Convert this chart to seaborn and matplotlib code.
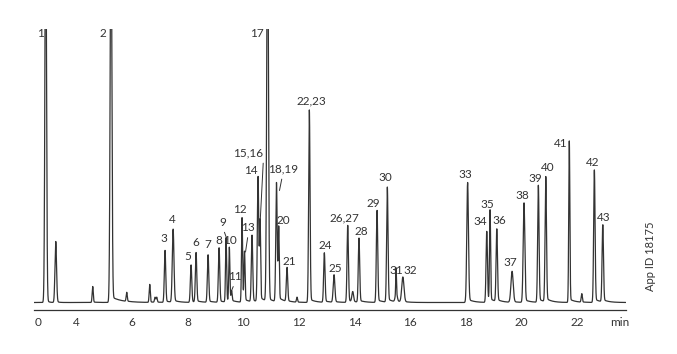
import numpy as np
import pandas as pd
import seaborn as sns
import matplotlib.pyplot as plt

# peaks: label, retention time (min), height, width (min)
peak_labels = ["1", "", "", "2", "", "", "", "", "3", "4", "5", "6", "7", "8", "9", "10",
               "11", "12", "13", "", "14", "15,16", "17", "18,19", "20", "21", "",
               "22,23", "24", "25", "26,27", "", "28", "29", "30", "31", "", "32",
               "33", "34", "35", "36", "37", "38", "39", "40", "41", "", "42", "43"]
peak_times = [0.82, 1.85, 4.576, 5.235, 5.80, 6.628, 6.82, 6.88, 7.179, 7.47, 8.116,
              8.296, 8.728, 9.124, 9.376, 9.493, 9.575, 9.951, 10.04, 10.31, 10.527,
              10.60, 10.87, 11.19, 11.27, 11.57, 11.93, 12.373, 12.913, 13.262, 13.755,
              13.935, 14.16, 14.81, 15.18, 15.494, 15.50, 15.739, 18.07, 18.759, 18.878,
              19.12, 19.67, 20.10, 20.616, 20.883, 21.73, 22.178, 22.632, 22.935]
peak_heights = [400, 61, 16, 400, 9, 18, 5, 5, 52, 73, 37.5, 49.5, 47.5, 54.5, 64, 54,
                10, 84.5, 49.5, 66.5, 125, 79, 400, 119, 73, 34, 5, 192.5, 49.5, 27.5,
                77, 10, 64, 92, 115, 25, 9, 25, 120, 71, 91.5, 72.5, 31, 99.5, 117, 125,
                161.5, 8.5, 132.5, 77]
peak_widths = [0.08, 0.08, 0.02, 0.03, 0.02, 0.02, 0.02, 0.02, 0.025, 0.03, 0.025,
               0.025, 0.025, 0.025, 0.02, 0.02, 0.02, 0.02, 0.02, 0.025, 0.025, 0.02,
               0.03, 0.025, 0.02, 0.025, 0.02, 0.025, 0.025, 0.03, 0.025, 0.03, 0.025,
               0.025, 0.025, 0.012, 0.035, 0.04, 0.03, 0.025, 0.02, 0.025, 0.04, 0.03,
               0.025, 0.025, 0.02, 0.02, 0.025, 0.025]

major_ticks = [0, 4, 6, 8, 10, 12, 14, 16, 18, 20, 22]
major_labels = ["0", "4", "6", "8", "10", "12", "14", "16", "18", "20", "22"]

# label placement (pixels, relative to the peak top; clipped peaks relative to the frame top)
label_offsets = {
    "1": (-5.7, -8), "2": (-8, -8), "17": (-10.3, -8),
    "3": (-1.6, 8.4), "4": (-0.6, 6.6), "5": (-3.7, 5), "6": (0, 7.3), "7": (0, 6.7),
    "8": (-0.7, 4), "9": (-3.3, 12.8), "10": (0.7, 5), "11": (3.5, 12.5), "12": (-2, 4.7),
    "13": (3.8, 22), "14": (-7.3, 3), "15,16": (-11.7, 67), "18,19": (6.2, 11),
    "20": (4.2, 5.3), "21": (1.8, 3.5), "22,23": (1.7, 5.7), "24": (0.7, 4), "25": (1, 3.3),
    "26,27": (-3.7, 4.3), "28": (2.7, 3.3), "29": (-3.7, 3.6), "30": (-1.6, 6.3),
    "31": (0, 4), "32": (7.2, 3.7), "33": (-2.3, 5), "34": (-6.7, 6.7), "35": (-2.7, 3.3),
    "36": (2.6, 5.7), "37": (-1.3, 5), "38": (-1.3, 4), "39": (-3.3, 3.6), "40": (1.6, 6.6),
    "41": (-8.6, -6.3), "42": (-2, 4.3), "43": (0.6, 4.7),
}
# leader lines: end point relative to peak top (pixels), start anchor on the label box
leaders = {"9": ((1, -1), (0.5, 0)), "11": ((0, 2), (0.5, 0)), "13": ((1, 1), (0.5, 0)),
           "15,16": ((0, 0), (1, 0)), "18,19": ((3, -7), (0.5, 0))}

XMIN, XMAX = -0.38, 23.76
YMIN, YMAX = -7.5, 273.5
PX_PER_MIN = 27.78
R = 0.351  # compression of the 0-4 min section


def fwd(t):
    t = np.asarray(t, dtype=float)
    return np.where(t < 4, t * R, 4 * R + (t - 4))


def inv(u):
    u = np.asarray(u, dtype=float)
    return np.where(u < 4 * R, u / R, u - 4 * R + 4)


# build the trace
t = np.linspace(XMIN, XMAX, 60000)
sig = np.zeros_like(t)
for t0, h, w in zip(peak_times, peak_heights, peak_widths):
    sig += h * np.exp(-0.5 * ((t - t0) / w) ** 2)
    dt = t - t0
    tail_amp = 0.03 * min(h, 120)
    tau = 0.2
    if t0 == 5.235:
        tail_amp, tau = 6, 0.35
    m = dt > 0
    sig[m] += tail_amp * np.exp(-dt[m] / tau) * (1 - np.exp(-(dt[m] / (2 * w)) ** 2))

df = pd.DataFrame({"time": t, "signal": sig})

sns.set_style("white")
plt.rcParams["font.family"] = ["Lato", "DejaVu Sans"]
ink = "#333333"
fs = 8.5

fig = plt.figure(figsize=(6.77, 3.54), dpi=100)
ax = fig.add_axes([34 / 677, 1 - 310 / 354, 591.7 / 677, 281 / 354])
sns.lineplot(data=df, x="time", y="signal", ax=ax, color="#333333", linewidth=0.9,
             estimator=None)
ax.set_xscale("function", functions=(fwd, inv))
ax.set_xlim(XMIN, XMAX)
ax.set_ylim(YMIN, YMAX)

for s in ["left", "top", "right"]:
    ax.spines[s].set_visible(False)
ax.spines["bottom"].set_color(ink)
ax.spines["bottom"].set_linewidth(0.9)

ax.set_xticks(major_ticks + [23.53])
ax.set_xticklabels(major_labels + ["min"])
minor = [1, 2, 3] + [v for v in np.arange(4.5, 23.6, 0.5) if v % 2 != 0]
ax.set_xticks(minor, minor=True)
ax.tick_params(axis="x", which="both", direction="inout", color=ink, width=0.8,
               labelsize=fs, labelcolor=ink, pad=3.5)
ax.tick_params(axis="x", which="major", length=3.5)
ax.tick_params(axis="x", which="minor", length=3)
ax.xaxis.get_major_ticks()[-1].tick1line.set_visible(False)
ax.set_yticks([])
ax.set_xlabel("")
ax.set_ylabel("")


def tx(t0, dx):
    # shift a time by dx pixels along the broken axis
    rate = PX_PER_MIN if t0 >= 4 else PX_PER_MIN * R
    return t0 + dx / rate


for lab, t0, h in zip(peak_labels, peak_times, peak_heights):
    if not lab:
        continue
    dx, dy = label_offsets[lab]
    top = min(h, YMAX)
    if lab in leaders:
        (ex, ey), rel = leaders[lab]
        ax.annotate(lab, xy=(tx(t0, ex), top + ey), xytext=(dx - ex, dy - ey),
                    textcoords="offset pixels", ha="center", va="baseline",
                    fontsize=fs, color=ink,
                    arrowprops=dict(arrowstyle="-", color=ink, lw=0.7,
                                    shrinkA=1, shrinkB=0, relpos=rel))
    else:
        ax.annotate(lab, xy=(t0, top), xytext=(dx, dy), textcoords="offset pixels",
                    ha="center", va="baseline", fontsize=fs, color=ink)

fig.text(651 / 677, 1 - 256 / 354, "App ID 18175", rotation=90, ha="center",
         va="center", fontsize=8, color=ink)

fig.savefig("out.png", dpi=100)
